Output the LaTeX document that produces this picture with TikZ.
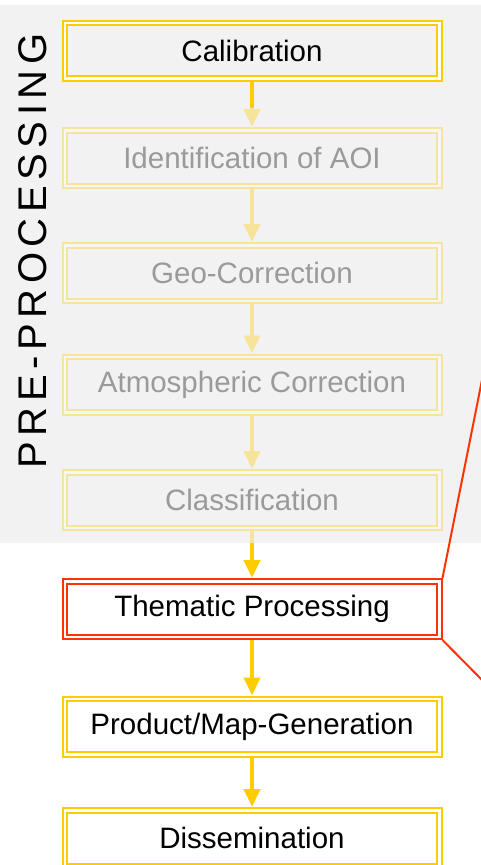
\documentclass[tikz,border=0pt]{standalone}
\usepackage{fontspec}
\setmainfont{Liberation Sans}
\newfontfamily\spacedfont[LetterSpace=14]{Liberation Sans}
\usetikzlibrary{arrows.meta}
\definecolor{ylw}{HTML}{FFCC00}
\definecolor{redd}{HTML}{FF3300}
\definecolor{bggray}{HTML}{F2F2F2}
\begin{document}
\begin{tikzpicture}[x=1pt,y=-1pt,
  stepbox/.style={draw=ylw, line width=2pt, double=white, double distance=2.5pt,
    minimum width=374.5pt, minimum height=55.5pt, inner sep=0pt, outer sep=3.25pt,
    font=\fontsize{29.5}{34}\selectfont},
  redbox/.style={stepbox, draw=redd},
  flow/.style={draw=ylw, line width=4.5pt, -{Triangle[length=18pt,width=16pt]}},
  conn/.style={draw=redd, line width=2pt}]
\useasboundingbox (0,0) rectangle (481,865);
\clip (0,0) rectangle (481,865);
\fill[bggray] (0,5) rectangle (481,543);
\node[rotate=90, font=\spacedfont\fontsize{40}{48}\selectfont] (pre) at (33,251) {PRE-PROCESSING};
\node[stepbox] (cal) at (252,50.5) {Calibration};
\node[stepbox] (aoi) at (252,158) {Identification of AOI};
\node[stepbox] (geo) at (252,273) {Geo-Correction};
\node[stepbox] (atm) at (252,384.5) {Atmospheric Correction};
\node[stepbox] (cls) at (252,500) {Classification};
\node[redbox] (them) at (252,609) {Thematic Processing};
\node[stepbox] (prod) at (252,726.5) {Product/Map-Generation};
\node[stepbox] (diss) at (252,838) {Dissemination};
\draw[flow] (cal) -- (aoi);
\draw[flow] (aoi) -- (geo);
\draw[flow] (geo) -- (atm);
\draw[flow] (atm) -- (cls);
\draw[flow] (cls) -- (them);
\draw[flow] (them) -- (prod);
\draw[flow] (prod) -- (diss);
\fill[bggray, opacity=0.64] (56,108) rectangle (446,543);
\coordinate (ztop) at (484,370);
\coordinate (zbot) at (486,684);
\draw[conn] (them.north east) -- (ztop);
\draw[conn] (them.south east) -- (zbot);
\end{tikzpicture}
\end{document}
